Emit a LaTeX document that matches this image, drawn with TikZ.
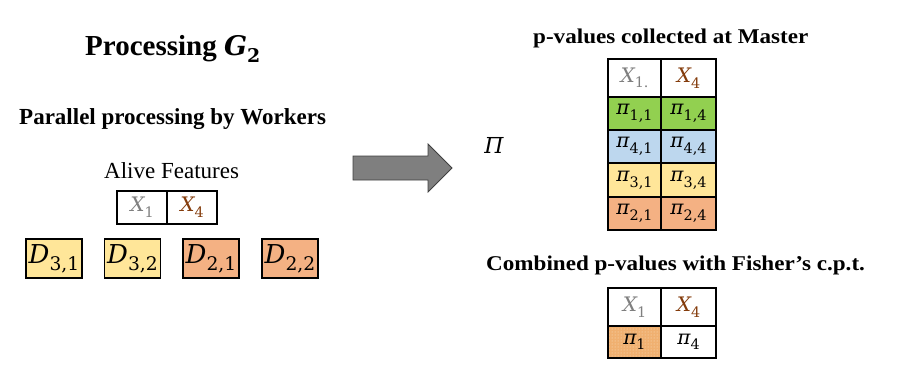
\documentclass[tikz,border=0pt]{standalone}
\usepackage{graphicx}
\usepackage{fontspec}
\setmainfont{Liberation Serif}
\newfontfamily\mf{DejaVu Serif}
\newfontfamily\wideserif[FakeStretch=1.1]{Liberation Serif}
\usetikzlibrary{patterns}
\definecolor{cgreen}{HTML}{92D050}
\definecolor{cblue}{HTML}{BDD7EE}
\definecolor{cyellow}{HTML}{FFE699}
\definecolor{corange}{HTML}{F4B183}
\definecolor{cgray}{HTML}{7F7F7F}
\definecolor{cbrown}{HTML}{843C0C}
\definecolor{cdot}{HTML}{F0B070}
\definecolor{cdotlight}{HTML}{FBE3C6}
\definecolor{carrow}{HTML}{7F7F7F}
% math-like variable: italic letter with upright subscript
\newcommand{\mv}[2]{{\mf\itshape #1}\raisebox{-0.28em}{\mf\scalebox{0.72}{#2}}}
\newcommand{\mvb}[2]{{\mf\bfseries\itshape #1}\raisebox{-0.28em}{\mf\bfseries\scalebox{0.7}{#2}}}
\tikzset{
  cell/.style={draw=black, line width=1.6pt, inner sep=0pt, font=\fontsize{20}{22}\selectfont},
  dbox/.style={draw=black, line width=1.8pt, inner sep=0pt, minimum width=56pt, minimum height=39pt, font=\fontsize{26}{30}\selectfont},
  btext/.style={anchor=base west, inner sep=0pt},
}
\newcommand{\cellat}[6]{% name, x1, y1, x2, y2, style
  \node[cell, #6] (#1) at ({(#2+#4)/2},{(#3+#5)/2}) [minimum width={#4-#2}, minimum height={#5-#3}]}
\begin{document}
\begin{tikzpicture}[x=1pt,y=-1pt]
\useasboundingbox (0,0) rectangle (902,380);
% titles
\node[btext, font=\fontsize{29}{34}\bfseries\selectfont] (title) at (85,55) {Processing {\fontsize{27}{30}\selectfont\mvb{G}{2}}};
\node[btext, font=\fontsize{23}{27}\bfseries\selectfont] (par) at (19,124.5) {Parallel processing by Workers};
\node[btext, font=\fontsize{23}{27}\selectfont] (alive) at (104,178) {Alive Features};
% alive features table
\cellat{a1}{117}{191}{167}{224}{}{\color{cgray}\mv{X}{1}};
\cellat{a4}{167}{191}{217}{224}{}{\color{cbrown}\mv{X}{4}};
% data boxes
\node[dbox, fill=cyellow] (d31) at (54,258.5) {\mv{D}{3,1}};
\node[dbox, fill=cyellow] (d32) at (132.5,258.5) {\mv{D}{3,2}};
\node[dbox, fill=corange] (d21) at (211,258.5) {\mv{D}{2,1}};
\node[dbox, fill=corange] (d22) at (290,258.5) {\mv{D}{2,2}};
% big arrow
\draw[fill=carrow, draw=black!75, line width=0.8pt]
  (353,156) -- (428,156) -- (428,144) -- (452,168) -- (428,192) -- (428,180) -- (353,180) -- cycle;
% right side
\node[btext, font=\fontsize{21}{25}\wideserif\bfseries\selectfont] (pcol) at (533,43) {p-values collected at Master};
\node[inner sep=0pt, font=\fontsize{22}{26}\mf\itshape\selectfont] (Pi) at (494,145) {Π};
\cellat{h1}{608}{59}{661}{97}{}{\color{cgray}\mv{X}{1.}};
\cellat{h4}{661}{59}{716}{97}{}{\color{cbrown}\mv{X}{4}};
\cellat{p11}{608}{97}{661}{130}{fill=cgreen}{\mv{π}{1,1}};
\cellat{p14}{661}{97}{716}{130}{fill=cgreen}{\mv{π}{1,4}};
\cellat{p41}{608}{130}{661}{163}{fill=cblue}{\mv{π}{4,1}};
\cellat{p44}{661}{130}{716}{163}{fill=cblue}{\mv{π}{4,4}};
\cellat{p31}{608}{163}{661}{197}{fill=cyellow}{\mv{π}{3,1}};
\cellat{p34}{661}{163}{716}{197}{fill=cyellow}{\mv{π}{3,4}};
\cellat{p21}{608}{197}{661}{230}{fill=corange}{\mv{π}{2,1}};
\cellat{p24}{661}{197}{716}{230}{fill=corange}{\mv{π}{2,4}};
% combined
\node[btext, font=\fontsize{21}{25}\wideserif\bfseries\selectfont] (comb) at (486,270.5) {Combined p-values with Fisher’s c.p.t.};
\cellat{c1}{608}{288}{661}{326}{}{\color{cgray}\mv{X}{1}};
\cellat{c4}{661}{288}{716}{326}{}{\color{cbrown}\mv{X}{4}};
\fill[cdot] (608,326) rectangle (661,358);
\fill[pattern=dots, pattern color=cdotlight] (608,326) rectangle (661,358);
\cellat{q1}{608}{326}{661}{358}{}{\mv{π}{1}};
\cellat{q4}{661}{326}{716}{358}{}{\mv{π}{4}};
\end{tikzpicture}
\end{document}
